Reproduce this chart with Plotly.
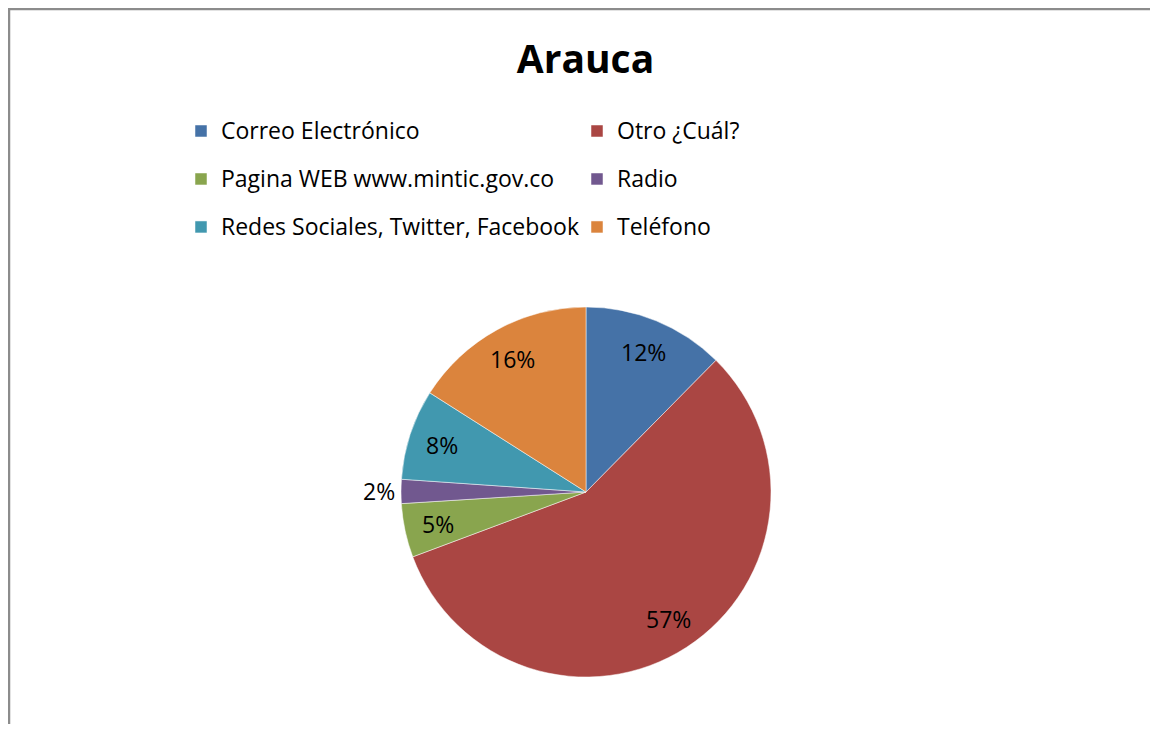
import math
import plotly.graph_objects as go

categories = ["Correo Electrónico", "Otro ¿Cuál?", "Pagina WEB www.mintic.gov.co",
              "Radio", "Redes Sociales, Twitter, Facebook", "Teléfono"]
percent_values = [12.4, 56.9, 4.7, 2.1, 7.9, 16.0]
slice_colors = ["#4572A7", "#AA4643", "#89A54E", "#71588F", "#4198AF", "#DB843D"]
label_outside = [False, False, False, True, False, False]

# page has an 8px body margin, so the figure is a bit smaller than the window
W, H = 1142, 716
cx, cy, R = 578, 484, 185
font_family = "Open Sans, Noto Sans, sans-serif"

fig = go.Figure(go.Pie(
    labels=[f'<span style="font-size:23px;baseline-shift:5px">{c}</span>' for c in categories],
    values=percent_values,
    sort=False,
    direction="clockwise",
    rotation=0,
    marker=dict(colors=slice_colors, line=dict(color="white", width=0.5)),
    textinfo="none",
    hovertemplate="%{label}: %{percent}<extra></extra>",
    domain=dict(x=[(cx - R) / W, (cx + R) / W], y=[1 - (cy + R) / H, 1 - (cy - R) / H]),
))

# percentage labels at the middle angle of each slice
total = sum(percent_values)
annotations = []
start = 0.0
for v, out in zip(percent_values, label_outside):
    mid = math.radians((start + v / 2) / total * 360)
    start += v
    rr = R * (1.12 if out else 0.82)
    annotations.append(dict(
        x=(cx + rr * math.sin(mid)) / W, y=1 - (cy - rr * math.cos(mid)) / H,
        xref="paper", yref="paper", xanchor="center", yanchor="middle",
        showarrow=False,
        text=f"{round(v / total * 100)}%",
        font=dict(size=23, family=font_family, color="black")))

fig.update_layout(
    width=W, height=H,
    margin=dict(l=0, r=0, t=0, b=0),
    paper_bgcolor="white",
    font=dict(family=font_family, color="black"),
    title=dict(text="<b>Arauca</b>", x=577.5 / W, xanchor="center",
               y=1 - 51 / H, yanchor="middle",
               font=dict(size=39, family=font_family, color="black")),
    showlegend=True,
    legend=dict(orientation="h", x=173 / W, xanchor="left",
                y=1 - 94 / H, yanchor="top",
                entrywidth=351, entrywidthmode="pixels",
                font=dict(size=34.6, family=font_family, color="black"),
                bgcolor="rgba(0,0,0,0)"),
    annotations=annotations,
    shapes=[dict(type="rect", xref="paper", yref="paper",
                 x0=1 / W, x1=1.02, y0=-0.02, y1=1 - 1 / H,
                 line=dict(color="#8c8c8c", width=2.5))],
)

fig.write_html("out.html")
